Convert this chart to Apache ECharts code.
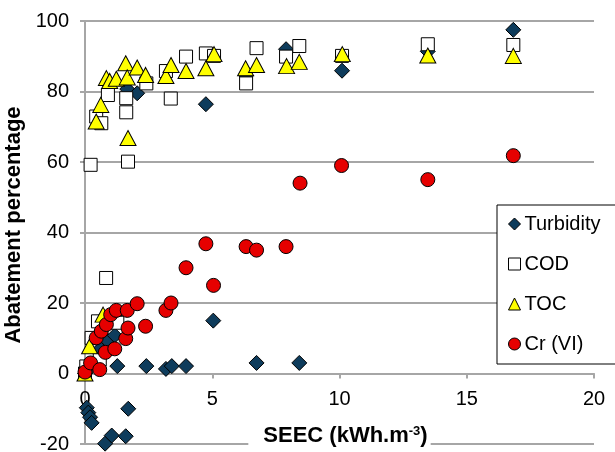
<!DOCTYPE html>
<html>
<head>
<meta charset="utf-8">
<title>Abatement vs SEEC</title>
<script src="https://cdn.jsdelivr.net/npm/echarts@6/dist/echarts.min.js"></script>
<style>
	html, body {
		margin: 0;
		padding: 0;
		background: #fff;
	}
	#chart {
		width: 615px;
		height: 452px;
	}
</style>
</head>
<body>
<div id="chart"></div>

<script type="text/javascript">
	// 数据：[SEEC, 去除率]
	var seriesNames = ['Turbidity', 'COD', 'TOC', 'Cr (VI)'];

	var turbidity = [
		[0, 0], [0.07, -9.7], [0.13, -11.1], [0.2, -12.4], [0.26, -14], [0.79, -19.9],
		[1.05, -17.6], [1.6, -17.8], [1.7, -10], [0.6, 7], [0.88, 9.4], [1.17, 10.8],
		[1.27, 2.1], [2.41, 2.1], [3.18, 1.3], [3.41, 2.1], [3.97, 2.1], [5.04, 15],
		[6.74, 3], [8.42, 3], [1.66, 80.7], [2.05, 79.5], [4.75, 76.4], [6.33, 84.5],
		[7.9, 92], [10.1, 85.9], [13.47, 91.4], [16.83, 97.5]
	];

	var cod = [
		[0, 0], [0.05, 2], [0.22, 59.2], [0.26, 10.1], [0.44, 72.9], [0.51, 14.8],
		[0.58, 4], [0.64, 71], [0.83, 27.1], [0.9, 79], [1.18, 14.8], [1.27, 14.4],
		[1.62, 78.1], [1.62, 74.1], [1.69, 60.1], [2.41, 82.3], [3.18, 85.8], [3.37, 78],
		[3.97, 89.9], [4.75, 90.8], [5.07, 90.1], [6.33, 82.3], [6.74, 92.3], [7.9, 89.9],
		[8.42, 92.9], [10.1, 90.1], [13.47, 93.4], [16.83, 93.2]
	];

	var toc = [
		[0, 0], [0.18, 7.7], [0.71, 16.7], [0.44, 71.5], [0.62, 76.2], [0.84, 83.8],
		[0.97, 83], [1.23, 83.6], [1.6, 88], [1.66, 84], [1.69, 66.8], [2.05, 86.8],
		[2.38, 84.7], [3.18, 84.4], [3.38, 87.5], [3.97, 85.8], [4.75, 86.6], [5.07, 90.6],
		[6.31, 86.6], [6.74, 87.5], [7.92, 87.2], [8.42, 88.4], [10.11, 90.6],
		[13.47, 90.2], [16.83, 90.1]
	];

	var cr = [
		[0, 0.4], [0.22, 3], [0.58, 1.1], [0.44, 10.1], [0.64, 12], [0.84, 13.9],
		[1.01, 16.7], [1.23, 17.9], [1.66, 17.9], [2.05, 19.8], [0.8, 6], [1.17, 7],
		[1.6, 9.9], [1.69, 12.9], [2.38, 13.4], [3.18, 17.9], [3.38, 20], [3.97, 30],
		[4.75, 36.8], [5.05, 25], [6.33, 36], [6.74, 35], [7.9, 36], [8.45, 54],
		[10.08, 59], [13.47, 55], [16.83, 61.8]
	];

	var xTicks = { min: 0, max: 20, interval: 5 };
	var yTicks = { min: -20, max: 100, interval: 20 };

	var font = 'Liberation Sans, Arial, sans-serif';
	var gridColor = '#a6a6a6';

	// 绘图区位置
	var gridTop = 21, gridBottom = 8, chartHeight = 452;
	// x 轴放在 y = 0 处（onZero 不生效，用 offset 往上移）
	var plotHeight = chartHeight - gridTop - gridBottom;
	var xAxisOffset = -plotHeight * (0 - yTicks.min) / (yTicks.max - yTicks.min);

	// 每个系列的点样式
	function scatter(name, data, symbol, size, color) {
		return {
			name: name,
			type: 'scatter',
			data: data,
			symbol: symbol,
			symbolSize: size,
			itemStyle: {
				color: color,
				borderColor: '#000',
				borderWidth: 1,
				opacity: 1
			},
			emphasis: { disabled: true }
		};
	}

	var option = {
		animation: false,
		backgroundColor: '#fff',
		textStyle: { fontFamily: font },
		grid: { left: 85, right: 21, top: gridTop, bottom: gridBottom, containLabel: false, outerBoundsMode: 'none' },
		legend: {
			orient: 'vertical',
			left: 497,
			top: 205,
			padding: [9, 20, 10, 11],
			itemGap: 20,
			itemWidth: 12,
			itemHeight: 12,
			itemStyle: { borderWidth: 1, borderColor: '#000' },
			backgroundColor: '#fff',
			borderColor: '#000',
			borderWidth: 1,
			textStyle: { fontSize: 20, color: '#000', fontFamily: font, padding: [0, 0, 0, -1] },
			data: seriesNames
		},
		xAxis: {
			type: 'value',
			min: xTicks.min,
			max: xTicks.max,
			interval: xTicks.interval,
			position: 'bottom',
			offset: xAxisOffset,
			axisLine: { show: true, onZero: false, lineStyle: { color: gridColor, width: 2 } },
			axisTick: { show: true, length: 5, lineStyle: { color: gridColor, width: 2 } },
			axisLabel: { fontSize: 20, color: '#000', margin: 16, fontFamily: font },
			splitLine: { show: false },
			name: '{b|SEEC (kWh.m}{s|-3}{b|)}',
			nameLocation: 'middle',
			nameGap: 51,
			nameTextStyle: {
				backgroundColor: '#fff',
				padding: [0, 3, 0, 15],
				rich: {
					b: { fontSize: 22, fontWeight: 'bold', color: '#000', fontFamily: font },
					s: { fontSize: 13, fontWeight: 'bold', color: '#000', fontFamily: font, verticalAlign: 'top' }
				}
			}
		},
		yAxis: {
			type: 'value',
			min: yTicks.min,
			max: yTicks.max,
			interval: yTicks.interval,
			axisLine: { show: true, onZero: false, lineStyle: { color: gridColor, width: 2 } },
			axisTick: { show: true, length: 5, lineStyle: { color: gridColor, width: 2 } },
			axisLabel: { fontSize: 20, color: '#000', margin: 16, fontFamily: font },
			splitLine: { show: true, lineStyle: { color: gridColor, width: 2 } },
			name: 'Abatement percentage',
			nameLocation: 'middle',
			nameGap: 55,
			nameTextStyle: {
				fontSize: 22,
				fontWeight: 'bold',
				color: '#000',
				fontFamily: font,
				padding: [0, 0, 0, 15]
			}
		},
		series: [
			scatter('Turbidity', turbidity, 'diamond', 15, '#0e3c5c'),
			scatter('COD', cod, 'rect', 13, '#ffffff'),
			scatter('TOC', toc, 'triangle', [16, 15], '#ffff00'),
			scatter('Cr (VI)', cr, 'circle', 14, '#e60000')
		]
	};

	var chart = echarts.init(document.getElementById('chart'), null, { renderer: 'canvas' });
	chart.setOption(option);
</script>
</body>
</html>
